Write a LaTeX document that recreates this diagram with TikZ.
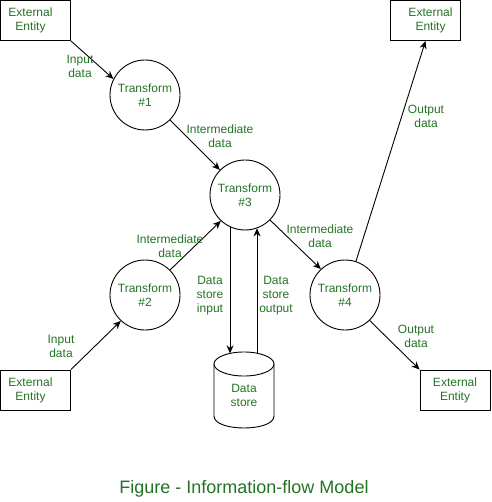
\documentclass[tikz,border=0pt]{standalone}
\usepackage{fontspec}
\setmainfont{Liberation Sans}
\usetikzlibrary{arrows.meta}
\definecolor{txtgreen}{RGB}{35,115,35}
\begin{document}
\begin{tikzpicture}[x=1pt,y=-1pt,
  lbl/.style={text=txtgreen, font=\fontsize{12}{14}\selectfont, align=center, inner sep=0pt},
  entity/.style={lbl, draw=black, line width=0.9pt, minimum width=70pt, minimum height=40pt},
  proc/.style={lbl, draw=black, line width=0.9pt, circle, minimum size=70pt},
  arr/.style={line width=0.9pt, -{Stealth[length=8pt,width=7pt,inset=2.5pt]}},
  shape line/.style={line width=0.9pt}
]
\useasboundingbox (0,0) rectangle (491,502);

% external entities
\node[entity] (ee1) at (35.5,20.5) {\hspace*{-10pt}External\\\hspace*{-10pt}Entity};
\node[entity] (ee2) at (35.5,390) {\hspace*{-10pt}External\\\hspace*{-10pt}Entity};
\node[entity] (ee3) at (425.5,20.5) {\hspace*{10pt}External\\\hspace*{10pt}Entity};
\node[entity] (ee4) at (455,390) {External\\Entity};

% transforms
\node[proc] (t1) at (145,95) {Transform\\\#1};
\node[proc] (t2) at (145,295) {Transform\\\#2};
\node[proc] (t3) at (245,195) {Transform\\\#3};
\node[proc] (t4) at (345,295) {Transform\\\#4};

% data store
\draw[shape line] (214,364) -- (214,416) .. controls (214,432) and (274,432) .. (274,416) -- (274,364);
\draw[shape line] (244,364) ellipse [x radius=30, y radius=12];
\node[lbl] (ds) at (244,395) {Data\\store};
\coordinate (dsin) at (230,353.4);
\coordinate (dsout) at (257,353.2);

% connectors
\draw[arr] (ee1.south east) -- (t1.153);
\draw[arr] (t1.-45) -- (t3.135);
\draw[arr] (ee2.north east) -- (t2.227);
\draw[arr] (t2.45) -- (t3.227);
\draw[arr] (t3.-45) -- (t4.133);
\draw[arr] (t4.72) -- (ee3.south);
\draw[arr] (t4.-46) -- (ee4.north west);
\draw[arr] (t3.-115) -- (t3.-115 |- dsin);
\draw[arr] (dsout) -- (dsout |- t3.-70);

% labels
\node[lbl] (l1) at (80,66) {Input\\data};
\node[lbl] (l2) at (220,136) {Intermediate\\data};
\node[lbl] (l3) at (170,246) {Intermediate\\data};
\node[lbl] (l4) at (210,296) {Data\\store\\input};
\node[lbl] (l5) at (276,296) {Data\\store\\output};
\node[lbl] (l6) at (320,236) {Intermediate\\data};
\node[lbl] (l7) at (426,116) {Output\\data};
\node[lbl] (l8) at (416,336) {Output\\data};
\node[lbl] (l9) at (61,346) {Input\\data};

% caption
\node[text=txtgreen, font=\fontsize{18}{20}\selectfont, inner sep=0pt] (cap) at (244,489) {Figure - Information-flow Model};
\end{tikzpicture}
\end{document}
